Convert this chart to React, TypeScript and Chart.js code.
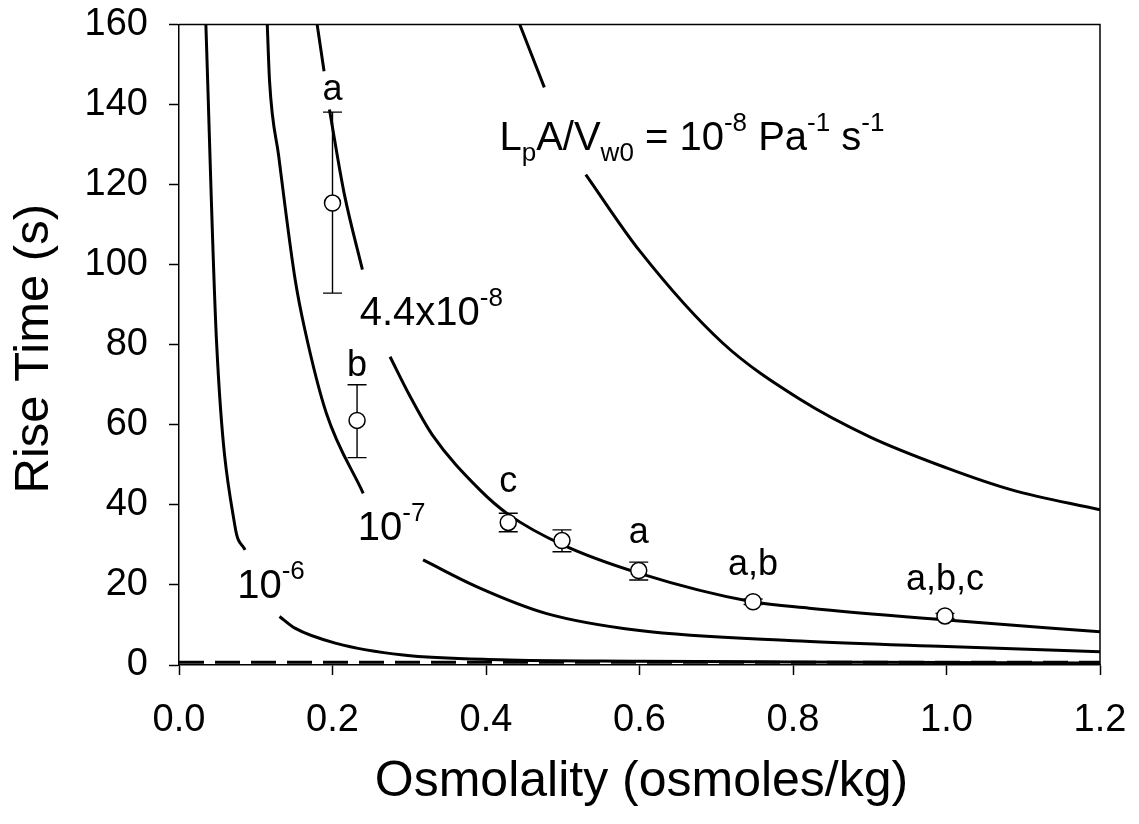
import React, { useEffect, useRef } from "react";
import { Chart, registerables } from "chart.js";

Chart.register(...registerables);

const FONT = "'Liberation Sans', Arial, Helvetica, sans-serif";

// axis ticks
const xTickValues = [0, 0.2, 0.4, 0.6, 0.8, 1.0, 1.2];
const yTickValues = [0, 20, 40, 60, 80, 100, 120, 140, 160];

// model curves (null = gap where a label sits)
const curve1e8X = [0.444, 0.476, 0.5, 0.53, 0.6, 0.708, 0.808, 0.9, 1.0, 1.085, 1.2];
const curve1e8Y = [160, 144.3, null, 122.5, 103.5, 80.5, 66.5, 57, 49.25, 43.75, 38.75];

const curve44e8X = [0.18, 0.189, 0.192, 0.196, 0.215, 0.239, 0.26, 0.275, 0.3, 0.33, 0.392, 0.43, 0.5, 0.6, 0.747, 0.821, 1.0, 1.2];
const curve44e8Y = [160, 148.3, null, 138.75, 118, 98.75, null, 77, 67.5, 57.5, 43.75, 37.5, 30, 22.9, 15.8, 14.2, 11.25, 8.3];

const curve1e7X = [0.115, 0.118, 0.13, 0.151, 0.164, 0.192, 0.24, 0.28, 0.318, 0.392, 0.478, 0.6, 0.81, 1.0, 1.2];
const curve1e7Y = [160, 145.8, 127, 96.7, 83.75, 62.9, 42.9, null, 26.25, 19.2, 12.9, 8.6, 6.0, 4.6, 3.3];

const curve1e6X = [0.035, 0.049, 0.073, 0.086, 0.11, 0.131, 0.151, 0.205, 0.292, 0.418, 0.6, 0.8, 1.0, 1.2];
const curve1e6Y = [160, 80.4, 34.6, 28.75, null, 12.1, 9.2, 5.4, 2.5, 1.3, 0.95, 0.75, 0.6, 0.5];

const dashedX = [0, 1.2];
const dashedY = [0.7, 0.7];

// measured points
const pointX = [0.2, 0.232, 0.429, 0.499, 0.599, 0.748, 0.998];
const pointY = [115.4, 61.1, 35.6, 31.1, 23.6, 15.8, 12.25];
const errHigh = [138.1, 70, 37.9, 33.75, 25.7, 16.5, 12.9];
const errLow = [92.9, 51.8, 33.3, 28.3, 21.25, 15.1, 11.6];
const pointLetters = ["a", "b", "c", "", "a", "a,b", "a,b,c"];
const letterBaseY = [141.25, 72.25, 43.1, 0, 30.4, 22.5, 18.75];

// curve labels: [x, y] anchors in data units
const eqAnchor = [0.4175, 128.75];
const lbl44Anchor = [0.2355, 85];
const lbl7Anchor = [0.233, 31.25];
const lbl6Anchor = [0.0758, 16.75];

type Part = [string, "n" | "sup" | "sub"];

function drawRich(ctx: CanvasRenderingContext2D, x: number, y: number, parts: Part[], size: number, small: number) {
  let cx = x;
  for (const [t, k] of parts) {
    const fs = k === "n" ? size : small;
    ctx.font = `${fs}px ${FONT}`;
    const dy = k === "sup" ? -19 : k === "sub" ? 11 : 0;
    ctx.fillText(t, cx, y + dy);
    cx += ctx.measureText(t).width;
  }
}

const toXY = (xs: number[], ys: (number | null)[]) => xs.map((x, i) => ({ x, y: ys[i] }));

const overlayPlugin = {
  id: "overlay",
  beforeDatasetsDraw(chart: any) {
    const { ctx, scales } = chart;
    const xs = scales.x;
    const ys = scales.y;
    ctx.save();
    ctx.strokeStyle = "#000";
    ctx.lineWidth = 1.4;
    pointX.forEach((vx, i) => {
      const px = xs.getPixelForValue(vx);
      const hi = ys.getPixelForValue(errHigh[i]);
      const lo = ys.getPixelForValue(errLow[i]);
      ctx.beginPath();
      ctx.moveTo(px, hi);
      ctx.lineTo(px, lo);
      ctx.moveTo(px - 9.5, hi);
      ctx.lineTo(px + 9.5, hi);
      ctx.moveTo(px - 9.5, lo);
      ctx.lineTo(px + 9.5, lo);
      ctx.stroke();
    });
    ctx.restore();
  },
  afterDraw(chart: any) {
    const { ctx, scales, chartArea } = chart;
    const xs = scales.x;
    const ys = scales.y;
    ctx.save();
    // frame top and right
    ctx.strokeStyle = "#000";
    ctx.lineWidth = 1.5;
    ctx.beginPath();
    ctx.moveTo(chartArea.left, chartArea.top);
    ctx.lineTo(chartArea.right, chartArea.top);
    ctx.lineTo(chartArea.right, chartArea.bottom);
    ctx.stroke();

    ctx.fillStyle = "#000";
    ctx.textBaseline = "alphabetic";

    // point letters
    ctx.textAlign = "center";
    ctx.font = `36px ${FONT}`;
    pointLetters.forEach((t, i) => {
      if (!t) return;
      ctx.fillText(t, xs.getPixelForValue(pointX[i]), ys.getPixelForValue(letterBaseY[i]));
    });

    // curve labels
    ctx.textAlign = "left";
    const at = (a: number[]) => [xs.getPixelForValue(a[0]), ys.getPixelForValue(a[1])];
    let p = at(eqAnchor);
    drawRich(ctx, p[0], p[1], [
      ["L", "n"], ["p", "sub"], ["A/V", "n"], ["w0", "sub"], [" = 10", "n"], ["-8", "sup"],
      [" Pa", "n"], ["-1", "sup"], [" s", "n"], ["-1", "sup"],
    ], 40, 26);
    p = at(lbl44Anchor);
    drawRich(ctx, p[0], p[1], [["4.4x10", "n"], ["-8", "sup"]], 40, 26);
    p = at(lbl7Anchor);
    drawRich(ctx, p[0], p[1], [["10", "n"], ["-7", "sup"]], 40, 26);
    p = at(lbl6Anchor);
    drawRich(ctx, p[0], p[1], [["10", "n"], ["-6", "sup"]], 40, 26);

    // axis titles
    ctx.font = `50px ${FONT}`;
    ctx.textAlign = "center";
    ctx.fillText("Osmolality (osmoles/kg)", (chartArea.left + chartArea.right) / 2 + 2, 788);
    ctx.save();
    ctx.translate(40, (chartArea.top + chartArea.bottom) / 2 + 4);
    ctx.rotate(-Math.PI / 2);
    ctx.font = `49px ${FONT}`;
    ctx.fillText("Rise Time (s)", 0, 0);
    ctx.restore();
    ctx.restore();
  },
};

export default function App() {
  const ref = useRef<HTMLCanvasElement | null>(null);
  useEffect(() => {
    if (!ref.current) return;
    const curveStyle = {
      showLine: true,
      pointRadius: 0,
      borderColor: "#000",
      borderWidth: 3,
      spanGaps: false,
      cubicInterpolationMode: "monotone" as const,
      fill: false,
    };
    const chart = new Chart(ref.current, {
      type: "scatter",
      data: {
        datasets: [
          {
            label: "measured",
            data: toXY(pointX, pointY),
            pointRadius: 8,
            pointBorderWidth: 1.5,
            pointBorderColor: "#000",
            pointBackgroundColor: "#fff",
            showLine: false,
          },
          { label: "1e-8", data: toXY(curve1e8X, curve1e8Y), ...curveStyle },
          { label: "4.4e-8", data: toXY(curve44e8X, curve44e8Y), ...curveStyle },
          { label: "1e-7", data: toXY(curve1e7X, curve1e7Y), ...curveStyle },
          { label: "1e-6", data: toXY(curve1e6X, curve1e6Y), ...curveStyle },
          {
            label: "dashed",
            data: toXY(dashedX, dashedY),
            showLine: true,
            pointRadius: 0,
            borderColor: "#000",
            borderWidth: 3,
            borderDash: [25, 11],
          },
        ] as any,
      },
      options: {
        responsive: false,
        animation: false,
        layout: { padding: { top: 16.5, right: 31, left: 0, bottom: 0 } },
        plugins: {
          legend: { display: false },
          tooltip: { enabled: false },
          title: { display: false },
        },
        scales: {
          x: {
            type: "linear",
            position: "bottom",
            min: 0,
            max: 1.2,
            afterBuildTicks: (s: any) => {
              s.ticks = xTickValues.map((v) => ({ value: v }));
            },
            afterFit: (s: any) => {
              s.height = 151;
              s.paddingLeft = 0;
              s.paddingRight = 0;
            },
            ticks: {
              color: "#000",
              font: { family: FONT, size: 38 },
              padding: 23,
              maxRotation: 0,
              autoSkip: false,
              callback: (v: any) => Number(v).toFixed(1),
            },
            grid: {
              display: true,
              drawOnChartArea: false,
              drawTicks: true,
              tickLength: 10,
              tickColor: "#000",
              tickWidth: 1.5,
              color: "#000",
            },
            border: { display: true, color: "#000", width: 1.5 },
          },
          y: {
            type: "linear",
            position: "left",
            min: 0,
            max: 160,
            afterBuildTicks: (s: any) => {
              s.ticks = yTickValues.map((v) => ({ value: v }));
            },
            afterFit: (s: any) => {
              s.width = 171;
              s.paddingTop = 0;
              s.paddingBottom = 0;
            },
            ticks: {
              color: "#000",
              font: { family: FONT, size: 38 },
              padding: 21,
              autoSkip: false,
              callback: (v: any) => String(v),
            },
            grid: {
              display: true,
              drawOnChartArea: false,
              drawTicks: true,
              tickLength: 10,
              tickColor: "#000",
              tickWidth: 1.5,
              color: "#000",
            },
            border: { display: true, color: "#000", width: 1.5 },
          },
        },
      } as any,
      plugins: [overlayPlugin],
    });
    return () => chart.destroy();
  }, []);
  return (
    <div style={{ width: 1123, height: 808 }}>
      <canvas ref={ref} width={1123} height={808} style={{ display: "block" }} />
    </div>
  );
}
